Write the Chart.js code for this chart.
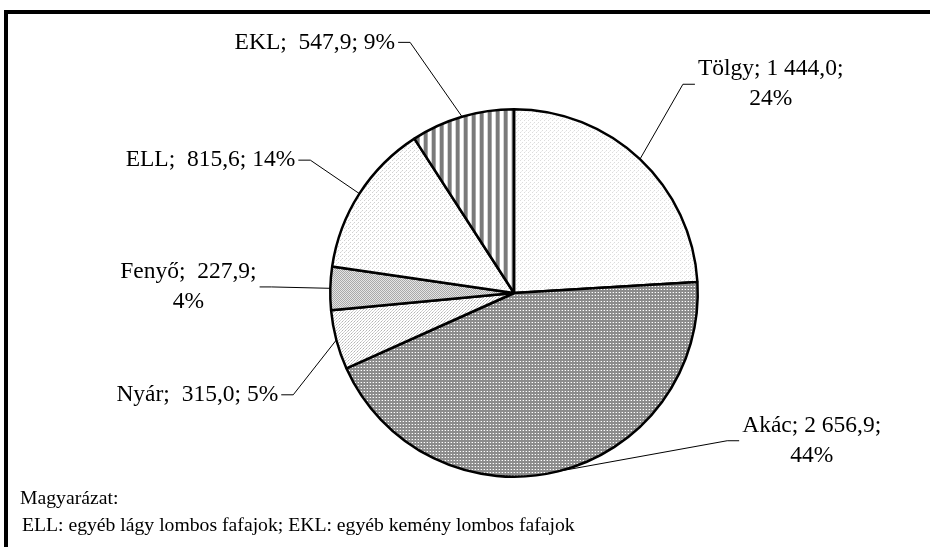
<!DOCTYPE html>
<html lang="hu">
<head>
<meta charset="utf-8">
<title>Fafajok</title>
<script src="https://cdn.jsdelivr.net/npm/chart.js@4/dist/chart.umd.min.js"></script>
<style>
    html, body { margin: 0; padding: 0; background: #fff; }
    #wrap { position: relative; width: 930px; height: 547px; overflow: hidden; }
    #frame { position: absolute; left: 4px; top: 10px; right: -10px; bottom: -10px;
             border-top: 4px solid #000; border-left: 4px solid #000; }
    #chartBox { position: absolute; left: 0; top: 0; width: 930px; height: 547px; }
    .note { position: absolute; font-family: 'Liberation Serif', 'Times New Roman', serif;
            font-size: 19.7px; line-height: 22px; color: #000; white-space: pre; }
</style>
</head>
<body>
<div id="wrap">
    <div id="frame"></div>
    <div id="chartBox"><canvas id="pieChart"></canvas></div>
    <div class="note" style="left:20px; top:486px;">Magyarázat:</div>
    <div class="note" style="left:17px; top:513px;"> ELL: egyéb lágy lombos fafajok; EKL: egyéb kemény lombos fafajok</div>
</div>
<script>
// --- DATOS ---
const fafajok = ['Tölgy', 'Akác', 'Nyár', 'Fenyő', 'ELL', 'EKL'];
const mennyiseg = [1444.0, 2656.9, 315.0, 227.9, 815.6, 547.9];

// Hungarian number format: 1 444,0
function formatHu(v) {
    const parts = v.toFixed(1).split('.');
    parts[0] = parts[0].replace(/\B(?=(\d{3})+(?!\d))/g, ' ');
    return parts.join(',');
}

// Small canvas patterns, like the Excel fills
function makePattern(w, h, bg, dots) {
    const c = document.createElement('canvas');
    c.width = w; c.height = h;
    const g = c.getContext('2d');
    g.fillStyle = bg;
    g.fillRect(0, 0, w, h);
    dots.forEach(d => {
        g.fillStyle = d[2];
        g.fillRect(d[0], d[1], 1, 1);
    });
    return g.createPattern(c, 'repeat');
}

function stripePattern(cols) {
    const c = document.createElement('canvas');
    c.width = cols.length; c.height = 1;
    const g = c.getContext('2d');
    cols.forEach((col, i) => { g.fillStyle = col; g.fillRect(i, 0, 1, 1); });
    return g.createPattern(c, 'repeat');
}

const fills = [
    makePattern(4, 4, '#ffffff', [[0, 0, '#dcdcdc'], [2, 2, '#dcdcdc'], [1, 3, '#eeeeee']]),
    makePattern(3, 3, '#8c8c8c', [[1, 1, '#ffffff'], [0, 1, '#b4b4b4']]),
    makePattern(3, 3, '#ffffff', [[0, 0, '#b4b4b4'], [2, 1, '#d0d0d0'], [1, 2, '#d0d0d0']]),
    makePattern(2, 2, '#e4e4e4', [[0, 0, '#a8a8a8'], [1, 1, '#a8a8a8']]),
    makePattern(4, 4, '#ffffff', [[0, 0, '#d0d0d0'], [2, 2, '#d0d0d0'], [1, 3, '#e4e4e4']]),
    stripePattern(['#7a7a7a', '#7a7a7a', '#7a7a7a', '#a8a8a8', '#ffffff', '#ffffff', '#ffffff', '#d4d4d4'])
];

// label placement relative to pie centre, in units of the radius
const labelLayout = [
    { fx: 1.397, fy: -1.136, align: 'center', sep: '; ', wrap: true },
    { fx: 1.620, fy: 0.804, align: 'center', sep: '; ', wrap: true },
    { fx: -1.283, fy: 0.554, align: 'right', sep: ';  ', wrap: false },
    { fx: -1.772, fy: -0.033, align: 'center', sep: ';  ', wrap: true },
    { fx: -1.190, fy: -0.723, align: 'right', sep: ';  ', wrap: false },
    { fx: -0.647, fy: -1.364, align: 'right', sep: ';  ', wrap: false }
];

const calloutPlugin = {
    id: 'callouts',
    afterDatasetsDraw(chart) {
        const ctx = chart.ctx;
        const meta = chart.getDatasetMeta(0);
        const values = chart.data.datasets[0].data;
        const total = values.reduce((a, b) => a + b, 0);
        const lineH = 30;

        ctx.save();
        ctx.font = '23.5px "Liberation Serif", "Times New Roman", serif';
        ctx.fillStyle = '#000';
        ctx.strokeStyle = '#000';
        ctx.lineWidth = 1;
        ctx.textBaseline = 'middle';

        meta.data.forEach((arc, i) => {
            const lay = labelLayout[i];
            const pct = Math.round(values[i] / total * 100) + '%';
            const head = chart.data.labels[i] + lay.sep + formatHu(values[i]) + ';';
            const lines = lay.wrap ? [head, pct] : [head + ' ' + pct];

            const r = arc.outerRadius;
            const mid = (arc.startAngle + arc.endAngle) / 2;
            const ax = arc.x + Math.cos(mid) * r;
            const ay = arc.y + Math.sin(mid) * r;
            const tx = arc.x + lay.fx * r;
            const ty = arc.y + lay.fy * r;

            const maxW = Math.max(...lines.map(l => ctx.measureText(l).width));
            let attachX;
            if (lay.align === 'center') {
                attachX = lay.fx > 0 ? tx - maxW / 2 - 3 : tx + maxW / 2 + 3;
            } else {
                attachX = tx + 3;
            }
            const dir = lay.fx > 0 ? -1 : 1;
            const elbowX = attachX + dir * 12;

            ctx.beginPath();
            ctx.moveTo(attachX, ty);
            ctx.lineTo(elbowX, ty);
            ctx.lineTo(ax, ay);
            ctx.stroke();

            ctx.textAlign = lay.align;
            const y0 = ty - (lines.length - 1) * lineH / 2;
            lines.forEach((l, k) => ctx.fillText(l, tx, y0 + k * lineH));
        });
        ctx.restore();
    }
};

new Chart(document.getElementById('pieChart').getContext('2d'), {
    type: 'pie',
    data: {
        labels: fafajok,
        datasets: [{
            data: mennyiseg,
            backgroundColor: fills,
            borderColor: '#000',
            borderWidth: 2.5
        }]
    },
    options: {
        responsive: true,
        maintainAspectRatio: false,
        animation: false,
        layout: { padding: { left: 329, right: 231, top: 108, bottom: 69 } },
        plugins: {
            legend: { display: false },
            tooltip: { enabled: false }
        }
    },
    plugins: [calloutPlugin]
});
</script>
</body>
</html>
